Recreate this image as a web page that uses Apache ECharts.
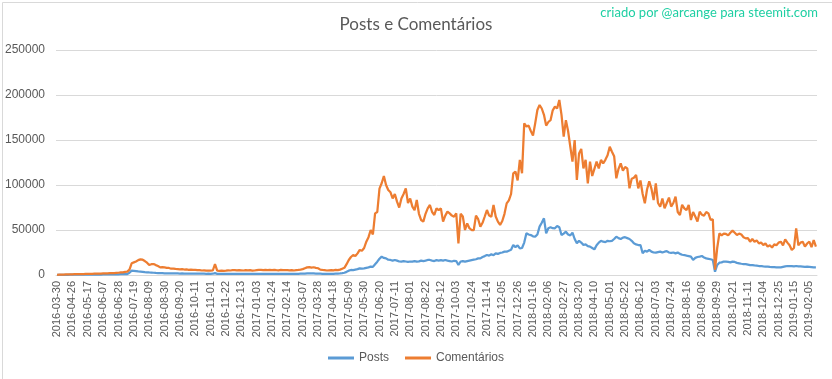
<!DOCTYPE html>
<html>
<head>
<meta charset="utf-8">
<script src="https://cdn.jsdelivr.net/npm/echarts@6/dist/echarts.min.js"></script>
<style>
html,body{margin:0;padding:0;background:#fff;}
#chart{width:832px;height:379px;}
</style>
</head>
<body>
<div id="chart"></div>
<script>
// Tick labels (every 21st day on the category axis)
var tickLabels = [
"2016-03-30","2016-04-26","2016-05-17","2016-06-07","2016-06-28","2016-07-19","2016-08-09","2016-08-30","2016-09-20","2016-10-11",
"2016-11-01","2016-11-22","2016-12-13","2017-01-03","2017-01-24","2017-02-14","2017-03-07","2017-03-28","2017-04-18","2017-05-09",
"2017-05-30","2017-06-20","2017-07-11","2017-08-01","2017-08-22","2017-09-12","2017-10-03","2017-10-24","2017-11-14","2017-12-05",
"2017-12-26","2018-01-16","2018-02-06","2018-02-27","2018-03-20","2018-04-10","2018-05-01","2018-05-22","2018-06-12","2018-07-03",
"2018-07-24","2018-08-16","2018-09-06","2018-09-29","2018-10-21","2018-11-11","2018-12-04","2018-12-25","2019-01-15","2019-02-05"
];

var comments = [
200,300,400,500,600,600,700,
800,900,900,1000,1100,1100,1200,
1200,1300,1300,1400,1500,1500,1600,
1700,1800,1900,2000,2100,2200,2400,
2500,2800,3000,3500,3700,6000,13000,
14000,15000,16500,17400,17000,15500,13700,
11100,12000,12200,11000,10000,8500,8800,
8500,8000,7800,7000,7200,6800,6600,
6300,6500,6100,6200,5800,6000,5600,
5600,5300,5500,5000,5100,4800,4900,
4800,5000,12000,4900,4700,4800,4500,
4800,5200,5000,5300,5500,5100,5400,
5200,5000,5400,5100,5300,4900,5000,
5300,5600,5800,5500,5700,5400,5600,
5500,5700,5400,5200,5600,5300,5500,
5400,5200,5500,5000,5300,5600,6000,
6500,7500,8500,8800,8200,8600,8000,
7500,6000,5600,5400,5000,5200,5300,
5100,5600,5400,6000,7000,8000,12000,
16700,20000,22200,21000,24000,27800,27000,
30000,37000,42000,50000,45000,68500,70000,
96000,101900,110000,100000,94400,92000,85000,
90000,81500,75000,85000,90000,96300,80000,
85000,76000,72000,83300,68000,61100,59300,
68000,74100,77800,70000,66700,74100,72000,
74000,59300,66000,70400,68500,66000,64800,
68500,35200,68000,65000,50000,57400,52000,
50000,50000,66000,62000,53700,58000,65000,
72200,66000,64800,77800,65000,59300,55600,
60000,68000,79600,83000,90000,113000,115000,
105000,127800,113000,168500,165000,166000,160000,
155000,168500,183300,188900,185000,178000,166000,
170000,172000,183000,187000,185000,194400,178000,
153700,172000,160000,142600,126000,150000,105600,
135000,140000,118500,128000,101900,125900,110000,
118000,125900,118500,127800,124000,128000,133000,
142600,137000,132000,107400,118000,124100,116000,
120000,118500,96300,107000,108000,111100,96300,
105000,90000,79600,95000,104000,96000,83300,
101900,80000,75900,85000,74100,80000,86000,
76000,80000,87000,70000,66700,78000,74000,
72000,78000,61100,70000,65000,59300,70400,
67000,66000,70000,68500,61100,62000,6000,
30000,46300,44000,46000,45600,44000,47000,
49300,47000,44500,46000,45000,42000,40700,
41000,37000,40000,37000,38500,35200,36000,
33300,35000,31500,33000,30500,34000,33000,
36000,37000,33000,39600,36000,33000,27800,
30000,51900,33000,36000,37000,31500,35000,
37000,31000,38900,31500
];

var posts = [
100,150,200,200,250,250,300,
300,300,350,350,400,400,400,
450,450,500,500,500,550,550,
600,600,650,650,700,700,750,
800,850,900,1000,1100,2500,4800,
4500,4200,3900,3700,3500,3200,3000,
2800,2700,2500,2300,2200,2100,2000,
1900,1900,1800,1800,1700,1700,1700,
1600,1700,1600,1500,1600,1500,1500,
1500,1400,1500,1400,1400,1300,1400,
1300,1400,2000,1300,1300,1200,1300,
1300,1200,1300,1200,1300,1200,1200,
1200,1300,1200,1300,1200,1300,1200,
1300,1200,1300,1300,1200,1300,1200,
1200,1300,1200,1200,1300,1200,1300,
1200,1300,1200,1300,1200,1300,1400,
1400,1600,1800,1900,1800,1700,1600,
1500,1400,1300,1300,1200,1300,1300,
1300,1400,1500,1700,2000,2500,3500,
4800,5600,5500,6000,6500,7400,7000,
7400,8000,8500,9300,9000,12000,14800,
18000,20400,19000,18500,17000,16700,16000,
16700,16000,15000,14800,15500,15000,14500,
15000,14800,15500,14800,15200,16000,15500,
16000,16700,16700,16000,15500,16500,16000,
16500,16000,16700,16000,15500,15000,15800,
15500,11100,15000,15500,14800,15500,16000,
16500,17000,17500,18500,18500,20000,21000,
22200,21500,23000,22000,24100,23500,24500,
25000,26000,25900,27000,28000,33300,31000,
33000,29600,30000,36000,46300,45000,44400,
43000,42600,45000,53700,58000,63000,46300,
52000,53000,52000,51900,54400,53000,44400,
46000,48100,45000,44000,47000,40000,35200,
38000,36000,33300,34000,32000,31500,30000,
28500,33000,36000,38000,37000,36500,38000,
37500,38000,40000,42600,41000,40000,41500,
42000,41000,40000,38000,35200,34000,33300,
33300,24100,27000,26000,27800,26000,25000,
24800,25500,26000,25000,25900,26500,25000,
24500,25000,24000,25000,23500,22500,22200,
21500,21000,20400,16700,19000,20000,20500,
21100,19500,18500,18000,17500,16700,3700,
11100,13700,14000,15000,14800,14500,14000,
14800,14500,13500,13000,12500,12200,12000,
11500,11000,11000,10700,10500,10000,10000,
9500,9300,9300,9000,8800,8700,8500,
8500,8500,9000,9500,10000,10000,9800,
9500,10000,9600,9500,9300,9000,9200,
9000,8800,8500,8500
];

// Build the category list: each tick label followed by the sampled dates until the next one
function addDays(s, d) {
  var p = s.split('-');
  var dt = new Date(Date.UTC(+p[0], +p[1] - 1, +p[2] + d));
  return dt.toISOString().slice(0, 10);
}
var categories = [];
for (var k = 0; k < tickLabels.length; k++) {
  categories.push(tickLabels[k]);
  var extra = (k < tickLabels.length - 1) ? 6 : 3;
  for (var j = 1; j <= extra; j++) categories.push(addDays(tickLabels[k], 3 * j));
}

var chart = echarts.init(document.getElementById('chart'), null, {renderer: 'canvas'});
chart.setOption({
  animation: false,
  backgroundColor: '#ffffff',
  textStyle: {fontFamily: 'Liberation Sans'},
  title: {
    text: 'Posts e Comentários',
    left: 'center',
    top: 11,
    textStyle: {fontFamily: 'Lato', fontSize: 17, fontWeight: 'normal', color: '#595959'}
  },
  graphic: [
    {type: 'rect', left: 0, top: 0, shape: {x: 0.5, y: 0.5, width: 831, height: 378},
     style: {fill: 'none', stroke: '#d9d9d9', lineWidth: 1}, silent: true},
    {type: 'text', right: 14, top: 6,
     style: {text: 'criado por @arcange para steemit.com', fill: '#1fcfa3', fontSize: 13, fontFamily: 'Lato'}}
  ],
  legend: {
    bottom: 10,
    left: 'center',
    itemWidth: 26,
    itemHeight: 3,
    itemGap: 16,
    icon: 'rect',
    textStyle: {color: '#595959', fontSize: 12, fontFamily: 'Liberation Sans'},
    data: ['Posts', 'Comentários']
  },
  grid: {left: 56, right: 15, top: 50, bottom: 104, containLabel: false},
  xAxis: {
    type: 'category',
    data: categories,
    boundaryGap: true,
    axisTick: {show: false},
    axisLine: {lineStyle: {color: '#d9d9d9'}},
    axisLabel: {interval: 6, rotate: 90, fontSize: 11, color: '#595959', margin: 6}
  },
  yAxis: {
    type: 'value',
    min: 0,
    max: 250000,
    interval: 50000,
    axisLine: {show: false},
    axisTick: {show: false},
    axisLabel: {fontSize: 12, color: '#595959', margin: 11, formatter: function (v) { return String(v); }},
    splitLine: {lineStyle: {color: '#d9d9d9', width: 1}}
  },
  series: [
    {name: 'Posts', type: 'line', data: posts, symbol: 'none',
     lineStyle: {color: '#5b9bd5', width: 2.25}, itemStyle: {color: '#5b9bd5'}},
    {name: 'Comentários', type: 'line', data: comments, symbol: 'none',
     lineStyle: {color: '#ed7d31', width: 2.25}, itemStyle: {color: '#ed7d31'}}
  ]
});
</script>
</body>
</html>
